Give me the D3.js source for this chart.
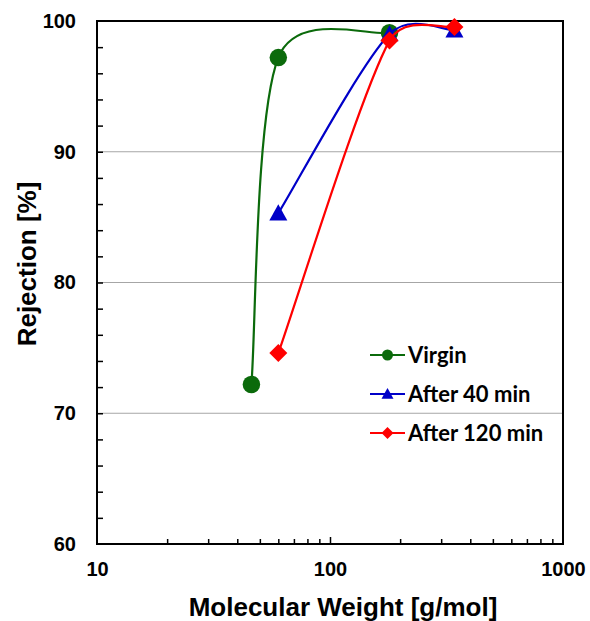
<!DOCTYPE html>
<html>
<head>
<meta charset="utf-8">
<script src="https://cdn.jsdelivr.net/npm/d3@7"></script>
<style>
  html, body { margin: 0; padding: 0; background: #fff; }
  svg { display: block; }
  .axis-label { font-family: "Liberation Sans", Arial, sans-serif; font-weight: bold; fill: #000; }
  .legend-label { font-family: Lato, "Open Sans", sans-serif; font-weight: bold; fill: #000; }
</style>
</head>
<body>
<svg id="chart" width="590" height="621"></svg>
<script>
// Molecular weights of the probe solutes [g/mol]
const virginMW = [46, 60, 180];
const virginRejection = [72.2, 97.2, 99.1];

const after40MW = [60, 180, 342];
const after40Rejection = [85.3, 99.0, 99.3];

const after120MW = [60, 180, 342];
const after120Rejection = [74.6, 98.5, 99.55];

const seriesNames = ["Virgin", "After 40 min", "After 120 min"];
const seriesColors = ["#0b6a0b", "#0000c8", "#ff0000"];
const seriesShapes = ["circle", "triangle", "diamond"];

const xTickValues = [10, 100, 1000];
const yTickValues = [60, 70, 80, 90, 100];
const yGridValues = [70, 80, 90];

const series = [
  { mw: virginMW, rej: virginRejection },
  { mw: after40MW, rej: after40Rejection },
  { mw: after120MW, rej: after120Rejection }
].map((s, i) => ({
  name: seriesNames[i],
  color: seriesColors[i],
  shape: seriesShapes[i],
  points: s.mw.map((m, j) => ({ mw: m, rej: s.rej[j] }))
}));

const svg = d3.select("#chart");
const margin = { left: 97, top: 21, right: 27, bottom: 77 };
const W = 590 - margin.left - margin.right;
const H = 621 - margin.top - margin.bottom;

const x = d3.scaleLog().domain([10, 1000]).range([0, W]);
const y = d3.scaleLinear().domain([60, 100]).range([H, 0]);

const g = svg.append("g").attr("transform", `translate(${margin.left},${margin.top})`);

// horizontal gridlines
g.selectAll(".grid").data(yGridValues).join("line")
  .attr("x1", 0).attr("x2", W)
  .attr("y1", d => y(d)).attr("y2", d => y(d))
  .attr("stroke", "#a6a6a6").attr("stroke-width", 1.2);

// inward ticks on the left axis (every 2 %)
const yMinor = d3.range(62, 100, 2);
g.append("g").call(d3.axisRight(y).tickValues(yMinor).tickSize(6).tickFormat(""))
  .call(a => a.select(".domain").remove())
  .selectAll("line").attr("stroke", "#000").attr("stroke-width", 1.5);

// inward ticks on the bottom axis (log decades)
const xMinor = [20, 30, 40, 50, 60, 70, 80, 90, 200, 300, 400, 500, 600, 700, 800, 900];
g.append("g").attr("transform", `translate(0,${H})`)
  .call(d3.axisTop(x).tickValues(xMinor).tickSize(5).tickFormat(""))
  .call(a => a.select(".domain").remove())
  .selectAll("line").attr("stroke", "#000").attr("stroke-width", 1.5);
g.append("g").attr("transform", `translate(0,${H})`)
  .call(d3.axisTop(x).tickValues([100]).tickSize(7).tickFormat(""))
  .call(a => a.select(".domain").remove())
  .selectAll("line").attr("stroke", "#000").attr("stroke-width", 1.5);

// tick labels
g.append("g").attr("transform", `translate(0,${H})`)
  .call(d3.axisBottom(x).tickValues(xTickValues).tickSize(0).tickPadding(18).tickFormat(d3.format("d")))
  .call(a => a.select(".domain").remove())
  .selectAll("text").attr("class", "axis-label").style("font-size", "20px");

g.append("g")
  .call(d3.axisLeft(y).tickValues(yTickValues).tickSize(0).tickPadding(21).tickFormat(d3.format("d")))
  .call(a => a.select(".domain").remove())
  .selectAll("text").attr("class", "axis-label").style("font-size", "20px");

// plot frame
g.append("rect").attr("x", 0).attr("y", 0).attr("width", W).attr("height", H)
  .attr("fill", "none").attr("stroke", "#000").attr("stroke-width", 2);

// axis titles
svg.append("text").attr("class", "axis-label")
  .attr("x", 343).attr("y", 616).attr("text-anchor", "middle")
  .style("font-size", "26px").text("Molecular Weight [g/mol]");

svg.append("text").attr("class", "axis-label")
  .attr("transform", "translate(36,264) rotate(-90)").attr("text-anchor", "middle")
  .style("font-size", "26px").text("Rejection [%]");

// marker shapes
function markerPath(shape, size) {
  if (shape === "circle") return d3.symbol(d3.symbolCircle, Math.PI * size * size / 4)();
  if (shape === "triangle") {
    const w = size, h = size * 0.9;
    return `M0,${-h * 0.55}L${w / 2},${h * 0.45}L${-w / 2},${h * 0.45}Z`;
  }
  const r = size / 2;
  return `M0,${-r}L${r},0L0,${r}L${-r},0Z`;
}

// Spreadsheet-style smoothing: cardinal Bezier tangents (1/6 of the chord
// between neighbours), with each handle limited to a share of its segment.
function SmoothCurve(context) { this._context = context; }
SmoothCurve.prototype = {
  areaStart() {}, areaEnd() {},
  lineStart() { this._pts = []; },
  point(px, py) { this._pts.push([+px, +py]); },
  lineEnd() {
    const p = this._pts, n = p.length, c = this._context, limit = 0.45;
    if (!n) return;
    c.moveTo(p[0][0], p[0][1]);
    if (n === 1) return;
    const handle = (i, j) => {
      // handle leaving point i towards neighbour j
      const prev = p[Math.max(i - 1, 0)], next = p[Math.min(i + 1, n - 1)];
      let tx = (next[0] - prev[0]) / 6, ty = (next[1] - prev[1]) / 6;
      const seg = Math.hypot(p[j][0] - p[i][0], p[j][1] - p[i][1]);
      const len = Math.hypot(tx, ty);
      if (len > limit * seg) { tx *= limit * seg / len; ty *= limit * seg / len; }
      return j > i ? [p[i][0] + tx, p[i][1] + ty] : [p[i][0] - tx, p[i][1] - ty];
    };
    for (let i = 0; i < n - 1; i++) {
      const a = handle(i, i + 1), b = handle(i + 1, i);
      c.bezierCurveTo(a[0], a[1], b[0], b[1], p[i + 1][0], p[i + 1][1]);
    }
  }
};
const smoothCurve = context => new SmoothCurve(context);

const line = d3.line()
  .x(d => x(d.mw)).y(d => y(d.rej))
  .curve(smoothCurve);

series.forEach(s => {
  g.append("path").datum(s.points)
    .attr("d", line).attr("fill", "none")
    .attr("stroke", s.color).attr("stroke-width", 2.2);
  const size = s.shape === "circle" ? 17.5 : 18;
  g.selectAll(null).data(s.points).join("path")
    .attr("transform", d => `translate(${x(d.mw)},${y(d.rej)})`)
    .attr("d", markerPath(s.shape, size))
    .attr("fill", s.color);
});

// legend
const legend = svg.append("g").attr("transform", "translate(370,355)");
series.forEach((s, i) => {
  const row = legend.append("g").attr("transform", `translate(0,${i * 39})`);
  row.append("line").attr("x1", 0).attr("x2", 35).attr("y1", 0).attr("y2", 0)
    .attr("stroke", s.color).attr("stroke-width", 2.2);
  row.append("path").attr("transform", "translate(17.5,0)")
    .attr("d", markerPath(s.shape, s.shape === "circle" ? 11 : 12)).attr("fill", s.color);
  row.append("text").attr("class", "legend-label")
    .attr("x", 38).attr("y", 0).attr("dy", "0.36em")
    .style("font-size", "22px").text(s.name);
});
</script>
</body>
</html>
